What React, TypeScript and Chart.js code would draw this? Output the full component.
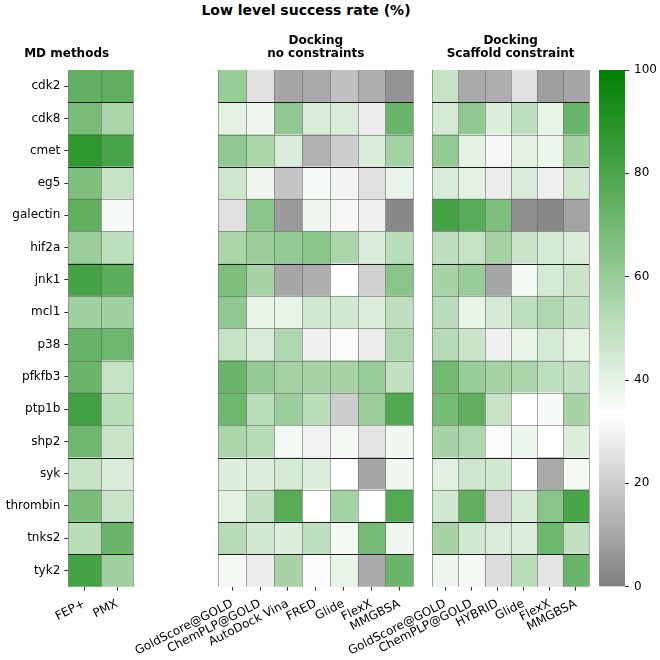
import React, { useEffect, useRef } from 'react';
import { Chart, registerables } from 'chart.js';

Chart.register(...registerables);

// ---------------- data ----------------
const targets = ['cdk2', 'cdk8', 'cmet', 'eg5', 'galectin', 'hif2a', 'jnk1', 'mcl1', 'p38', 'pfkfb3', 'ptp1b', 'shp2', 'syk', 'thrombin', 'tnks2', 'tyk2'];

const mdMethods = ['FEP+', 'PMX'];
const dockMethods = ['GoldScore@GOLD', 'ChemPLP@GOLD', 'AutoDock Vina', 'FRED', 'Glide', 'FlexX', 'MMGBSA'];
const scaffoldMethods = ['GoldScore@GOLD', 'ChemPLP@GOLD', 'HYBRID', 'Glide', 'FlexX', 'MMGBSA'];

// rows follow `targets`, columns follow the method arrays
const mdValues = [
  [74, 75], [68, 55], [88, 81], [67, 48], [75, 35], [59, 50], [82, 76], [58, 58],
  [73, 71], [72, 48], [83, 51], [71, 47], [48, 43], [68, 47], [51, 72], [82, 58],
];
const dockValues = [
  [60, 25, 10, 11, 17, 12, 5],
  [40, 37, 62, 43, 43, 28, 72],
  [62, 55, 43, 13, 20, 43, 57],
  [46, 37, 18, 35, 30, 25, 39],
  [25, 64, 7, 37, 31, 29, 2],
  [55, 59, 61, 64, 55, 43, 51],
  [67, 56, 10, 12, 33, 21, 64],
  [62, 39, 39, 45, 45, 42, 50],
  [48, 43, 54, 29, 32, 28, 54],
  [72, 61, 57, 56, 56, 60, 49],
  [71, 51, 59, 51, 20, 59, 79],
  [55, 52, 36, 30, 36, 26, 37],
  [42, 42, 44, 42, 33, 10, 37],
  [40, 49, 77, 33, 57, 33, 78],
  [52, 45, 42, 50, 36, 69, 37],
  [36, 28, 56, 32, 39, 11, 72],
];
const scaffoldValues = [
  [48, 11, 12, 25, 8, 10],
  [44, 62, 42, 50, 39, 72],
  [61, 40, 31, 40, 38, 56],
  [43, 40, 28, 43, 29, 46],
  [82, 77, 67, 4, 2, 9],
  [50, 48, 56, 47, 44, 43],
  [56, 60, 10, 36, 44, 47],
  [51, 39, 44, 50, 54, 49],
  [52, 47, 29, 39, 44, 40],
  [70, 60, 57, 55, 50, 49],
  [69, 75, 48, 33, 35, 56],
  [56, 54, 34, 38, 33, 42],
  [41, 46, 45, 33, 11, 36],
  [45, 75, 22, 44, 64, 81],
  [56, 45, 43, 42, 71, 49],
  [38, 36, 24, 51, 26, 72],
];
const colorbarRange = [0, 100];
const colorbarTicks = [0, 20, 40, 60, 80, 100];

const mainTitle = 'Low level success rate (%)';
const mdTitle = ['MD methods'];
const dockTitle = ['Docking', 'no constraints'];
const scaffoldTitle = ['Docking', 'Scaffold constraint'];

// ---------------- style ----------------
const CENTER = 33;
const darkRowSeparators = [1, 3, 6, 12, 14, 15];
const LABEL_ROTATION = 27;
const X_AXIS_HEIGHT = 73.3;

function cmap(v: number): string {
  let r: number, g: number, b: number;
  if (v <= CENTER) {
    const t = Math.max(0, v) / CENTER;
    r = g = b = 128 + 127 * t;
  } else {
    const t = Math.min(1, (v - CENTER) / (100 - CENTER));
    r = 255 - 255 * t;
    g = 255 - 127 * t;
    b = 255 - 255 * t;
  }
  return `rgb(${Math.round(r)},${Math.round(g)},${Math.round(b)})`;
}

Chart.defaults.font.family = "'DejaVu Sans', sans-serif";
Chart.defaults.color = '#000';

const cellLines = {
  id: 'cellLines',
  afterDatasetsDraw(chart: any) {
    const { ctx, chartArea: ca, scales } = chart;
    const x = scales.x;
    const y = scales.y;
    const n = x.max;
    ctx.save();
    ctx.lineWidth = 1;
    for (let j = 0; j <= n; j++) {
      const px = Math.round(x.getPixelForValue(j)) + 0.5;
      ctx.strokeStyle = 'rgba(95,95,95,0.55)';
      ctx.beginPath();
      ctx.moveTo(px, ca.top);
      ctx.lineTo(px, ca.bottom);
      ctx.stroke();
    }
    for (let k = 1; k < targets.length; k++) {
      const py = Math.round((y.getPixelForValue(k - 1) + y.getPixelForValue(k)) / 2) + 0.5;
      ctx.strokeStyle = darkRowSeparators.includes(k) ? '#1c1c1c' : 'rgba(95,95,95,0.55)';
      ctx.beginPath();
      ctx.moveTo(ca.left, py);
      ctx.lineTo(ca.right, py);
      ctx.stroke();
    }
    ctx.restore();
  },
};

function heatmapConfig(
  methods: string[],
  values: number[][],
  title: string[],
  showY: boolean,
  padLeft: number,
  padRight: number,
  padTop: number,
  titleBottom: number,
  titleFull: boolean,
): any {
  return {
    type: 'bar',
    data: {
      labels: targets,
      datasets: methods.map((m, j) => ({
        label: m,
        data: targets.map(() => 1),
        backgroundColor: targets.map((_, i) => cmap(values[i][j])),
        borderWidth: 0,
        barPercentage: 1,
        categoryPercentage: 1,
      })),
    },
    options: {
      indexAxis: 'y',
      responsive: false,
      animation: false,
      devicePixelRatio: 1,
      layout: { padding: { left: padLeft, right: padRight, top: padTop, bottom: 0 } },
      plugins: {
        legend: { display: false },
        tooltip: { enabled: false },
        title: {
          display: true,
          text: title,
          fullSize: titleFull,
          color: '#000',
          font: { size: 12, weight: 'bold', lineHeight: 1.1 },
          padding: { top: 0, bottom: titleBottom },
        },
      },
      scales: {
        x: {
          type: 'linear',
          stacked: true,
          min: 0,
          max: methods.length,
          position: 'bottom',
          afterBuildTicks: (s: any) => {
            s.ticks = methods.map((_, i) => ({ value: i + 0.5 }));
          },
          afterFit: (s: any) => {
            s.height = X_AXIS_HEIGHT;
          },
          ticks: {
            autoSkip: false,
            minRotation: LABEL_ROTATION,
            maxRotation: LABEL_ROTATION,
            padding: 6,
            color: '#000',
            font: { size: 12 },
            callback: (_v: any, i: number) => methods[i],
          },
          grid: { drawOnChartArea: false, tickLength: 4, tickColor: '#333', tickWidth: 1 },
          border: { display: false },
        },
        y: showY
          ? {
              type: 'category',
              stacked: true,
              position: 'left',
              offset: true,
              afterFit: (s: any) => {
                s.width = 68.3;
              },
              grid: { offset: false, drawOnChartArea: false, tickLength: 4, tickColor: '#333', tickWidth: 1 },
              border: { display: false },
              ticks: { autoSkip: false, padding: 4, color: '#000', font: { size: 12 } },
            }
          : { type: 'category', stacked: true, offset: true, display: false },
      },
    },
    plugins: [cellLines],
  };
}

function colorbarConfig(): any {
  return {
    type: 'bar',
    data: {
      labels: [''],
      datasets: [
        {
          data: [colorbarRange],
          borderWidth: 0,
          barPercentage: 1,
          categoryPercentage: 1,
          backgroundColor: (ctx: any) => {
            const chart = ctx.chart;
            const ys = chart.scales.y;
            if (!chart.chartArea || !ys) return cmap(50);
            const y0 = ys.getPixelForValue(colorbarRange[0]);
            const y1 = ys.getPixelForValue(colorbarRange[1]);
            const g = chart.ctx.createLinearGradient(0, y0, 0, y1);
            for (let v = 0; v <= 100; v += 5) g.addColorStop(v / 100, cmap(v));
            g.addColorStop(CENTER / 100, cmap(CENTER));
            return g;
          },
        },
      ],
    },
    options: {
      responsive: false,
      animation: false,
      devicePixelRatio: 1,
      layout: { padding: { left: 599, right: 0, top: 70, bottom: 73.3 } },
      plugins: { legend: { display: false }, tooltip: { enabled: false }, title: { display: false } },
      scales: {
        x: { type: 'category', display: false, offset: true },
        y: {
          type: 'linear',
          position: 'right',
          min: colorbarRange[0],
          max: colorbarRange[1],
          afterBuildTicks: (s: any) => {
            s.ticks = colorbarTicks.map((v) => ({ value: v }));
          },
          afterFit: (s: any) => {
            s.width = 35;
          },
          grid: { drawOnChartArea: false, tickLength: 4, tickColor: '#333', tickWidth: 1 },
          border: { display: false },
          ticks: { padding: 5, color: '#000', font: { size: 12 } },
        },
      },
    },
  };
}

export default function App() {
  const c1 = useRef<HTMLCanvasElement>(null);
  const c2 = useRef<HTMLCanvasElement>(null);
  const c3 = useRef<HTMLCanvasElement>(null);
  const c4 = useRef<HTMLCanvasElement>(null);

  useEffect(() => {
    const charts: Chart[] = [];
    // panel 1 canvas is 202 wide so its full-width title centres on the panel
    if (c1.current) charts.push(new Chart(c1.current, heatmapConfig(mdMethods, mdValues, mdTitle, true, 0, 68.7, 46.9, 9.9, true)));
    if (c2.current) charts.push(new Chart(c2.current, heatmapConfig(dockMethods, dockValues, dockTitle, false, 218.3, 246.7, 34.2, 9.4, false)));
    if (c3.current) charts.push(new Chart(c3.current, heatmapConfig(scaffoldMethods, scaffoldValues, scaffoldTitle, false, 432.3, 71, 34.2, 9.4, false)));
    if (c4.current) charts.push(new Chart(c4.current, colorbarConfig()));
    return () => charts.forEach((c) => c.destroy());
  }, []);

  const canvasStyle: React.CSSProperties = { position: 'absolute', left: 0, top: 0, width: 660, height: 660 };

  return (
    <div style={{ position: 'absolute', left: 0, top: 0, width: 660, height: 660, background: '#fff', overflow: 'hidden' }}>
      <div
        style={{
          position: 'absolute',
          left: 0,
          top: 2,
          width: 612,
          textAlign: 'center',
          fontFamily: "'DejaVu Sans', sans-serif",
          fontWeight: 'bold',
          fontSize: 14,
          lineHeight: '17px',
          color: '#000',
        }}
      >
        {mainTitle}
      </div>
      <canvas ref={c1} width={202} height={660} style={{ position: 'absolute', left: 0, top: 0, width: 202, height: 660 }} />
      <canvas ref={c2} width={660} height={660} style={canvasStyle} />
      <canvas ref={c3} width={660} height={660} style={canvasStyle} />
      <canvas ref={c4} width={660} height={660} style={canvasStyle} />
    </div>
  );
}
